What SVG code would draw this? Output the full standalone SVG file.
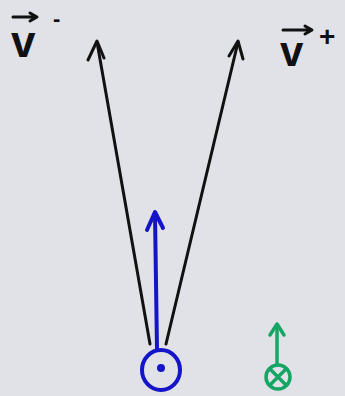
<svg xmlns="http://www.w3.org/2000/svg" width="345" height="396" viewBox="0 0 345 396">
<defs>
<style>
.lbl{font-family:"Liberation Sans",Arial,sans-serif;font-weight:bold;fill:#111}
.blk{stroke:#111;stroke-width:3;fill:none;stroke-linecap:round;stroke-linejoin:round}
.blu{stroke:#1414c8;stroke-width:4;fill:none;stroke-linecap:round;stroke-linejoin:round}
.grn{stroke:#17a566;stroke-width:3.5;fill:none;stroke-linecap:round;stroke-linejoin:round}
</style>
</defs>
<rect width="345" height="396" fill="#e1e2e7"/>
<g id="connectors">
<path class="blk" d="M150,344 L97,42"/>
<path class="blk" d="M88,60 L97,41 L104,58"/>
<path class="blk" d="M166,344 L238,42"/>
<path class="blk" d="M229,56 L238,41 L243,59"/>
<path class="blu" d="M157,350 L155,214"/>
<path class="blu" d="M147,230 L155,212 L163,228"/>
<path class="grn" d="M277,365 L277,326"/>
<path class="grn" d="M270,335 L277,324 L284,335"/>
</g>
<g id="label-vminus">
<path class="blk" d="M13,17 L36,17 M30,13 L37,17 L30,21" stroke-width="5"/>
<text class="lbl" x="11" y="57" font-size="44">v</text>
<text class="lbl" x="53" y="26" font-size="22">-</text>
</g>
<g id="label-vplus">
<path class="blk" d="M283,30 L311,30 M305,26 L312,30 L305,34" stroke-width="5"/>
<text class="lbl" x="280" y="66" font-size="42">v</text>
<text class="lbl" x="319" y="46" font-size="28">+</text>
</g>
<g id="node-out">
<ellipse class="blu" cx="161" cy="370" rx="19" ry="20"/>
<circle cx="161" cy="368" r="4" fill="#1414c8"/>
</g>
<g id="node-in">
<circle class="grn" cx="278" cy="377" r="12"/>
<path class="grn" d="M271,370 L285,384 M285,370 L271,384" stroke-width="3"/>
</g>
</svg>
